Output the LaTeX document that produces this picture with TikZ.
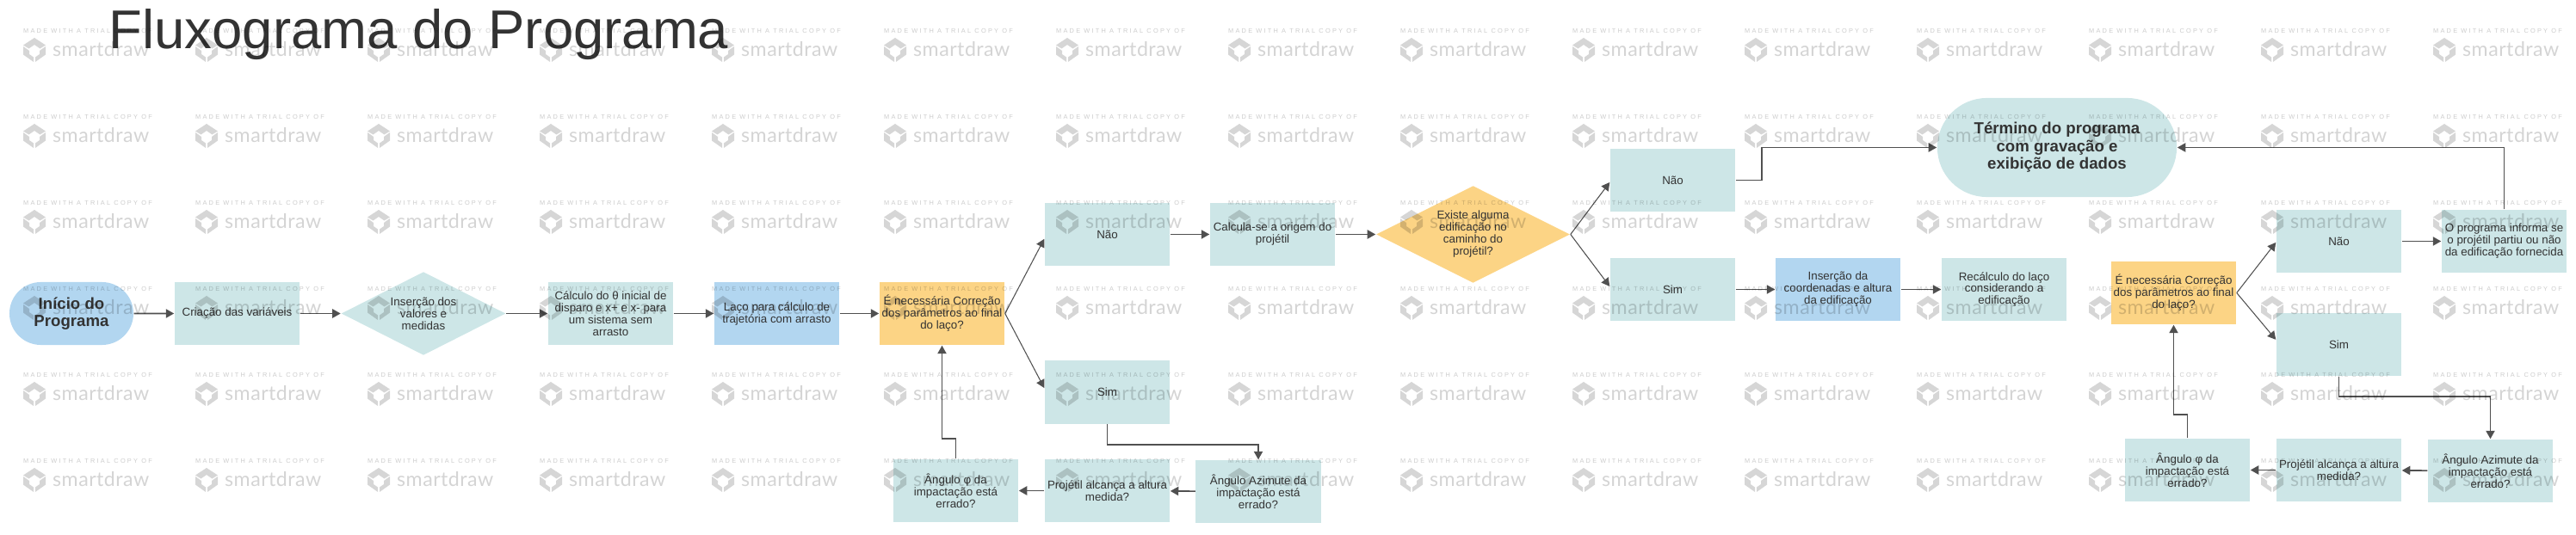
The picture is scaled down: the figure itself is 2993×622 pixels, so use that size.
\documentclass[tikz,border=0pt]{standalone}
\usepackage{fontspec}
\setmainfont{Liberation Sans}
\newfontfamily\markfont[LetterSpace=30]{Liberation Sans}
\newfontfamily\logofont[LetterSpace=2]{Lato}
\usetikzlibrary{arrows.meta,shapes.geometric,shapes.misc}

\definecolor{agua}{HTML}{CDE6E7}
\definecolor{azul}{HTML}{B2D6F0}
\definecolor{ouro}{HTML}{FCD485}
\definecolor{tinta}{HTML}{333333}
\definecolor{linha}{HTML}{505050}

\tikzset{
  caixa/.style={rectangle,fill=agua,minimum width=1.45cm,minimum height=.73cm},
  losango/.style={diamond,fill=#1,aspect=1.9},
  termo/.style={rounded rectangle,fill=#1,font=\fontsize{5.3}{5.8}\selectfont\bfseries},
  seta/.style={draw=linha,line width=.45pt,-{Triangle[length=2.7pt,width=2.9pt]}},
  fina/.style={seta,line width=.3pt},
  selo/.pic={
    \fill (0,-14) -- (13,-5.5) -- (6.5,-1.5) -- (0,-6) -- (-6.5,-1.5) -- (-13,-5.5) -- cycle;
    \fill (-13,-4) -- (-6,1) -- (-6,5) -- (-1,8.5) -- (-1,14) -- (-13,5.5) -- cycle;
    \fill (13,-4) -- (6,1) -- (6,5) -- (1,8.5) -- (1,14) -- (13,5.5) -- cycle;
  }
}

\begin{document}
\begin{tikzpicture}
  [x=.01cm,y=-.01cm,every node/.style={inner sep=0,align=center,text=tinta,
   font=\fontsize{3.8}{3.98}\selectfont}]
  \useasboundingbox (0,0) rectangle (2993,622);

  \node[anchor=base west,font=\fontsize{18.05}{20}\selectfont] (titulo) at (126,57) {Fluxograma do Programa};

  % primeira linha
  \node[termo=azul,minimum width=1.44cm,minimum height=.73cm] (ini) at (83,364.5) {Início do\\Programa};
  \node[caixa] (var) at (275.5,364.5) {Criação das variáveis};
  \node[losango=agua,minimum width=1.91cm,minimum height=.97cm] (dados) at (492,364.5) {Inserção dos\\valores e\\medidas};
  \node[caixa] (calc) at (709.5,364.5) {Cálculo do θ inicial de\\disparo e x+ e x- para\\um sistema sem\\arrasto};
  \node[caixa,fill=azul] (laco) at (902.5,364.5) {Laço para cálculo de\\trajetória com arrasto};
  \node[caixa,fill=ouro] (cor1) at (1094.5,364.5) {É necessária Correção\\dos parâmetros ao final\\do laço?};

  % ramo do primeiro laco
  \node[caixa] (nao1) at (1286.5,272.5) {Não};
  \node[caixa] (orig) at (1478.5,272.5) {Calcula-se a origem do\\projétil};
  \node[losango=ouro,minimum width=2.25cm,minimum height=1.13cm] (exis) at (1711.5,272.5) {Existe alguma\\edificação no\\caminho do\\projétil?};
  \node[caixa] (sim1) at (1286.5,456) {Sim};
  \node[caixa] (az1) at (1462,571.5) {Ângulo Azimute da\\impactação está\\errado?};
  \node[caixa] (proj1) at (1286.5,570.5) {Projétil alcança a altura\\medida?};
  \node[caixa] (phi1) at (1110.5,570.5) {Ângulo φ da\\impactação está\\errado?};

  % edificacao
  \node[caixa] (nao2) at (1943.5,209.5) {Não};
  \node[caixa] (sim2) at (1943.5,336.5) {Sim};
  \node[caixa,fill=azul] (ins) at (2135.5,336.5) {Inserção da\\coordenadas e altura\\da edificação};
  \node[caixa] (rec) at (2328.5,336.5) {Recálculo do laço\\considerando a\\edificação};
  \node[termo=agua,minimum width=2.78cm,minimum height=1.15cm] (fim) at (2390,171.5) {Término do programa\\com gravação e\\exibição de dados};

  % segundo laco
  \node[caixa,fill=ouro] (cor2) at (2525.5,340.5) {É necessária Correção\\dos parâmetros ao final\\do laço?};
  \node[caixa] (nao3) at (2717.5,280.5) {Não};
  \node[caixa] (info) at (2909.5,280.5) {O programa informa se\\o projétil partiu ou não\\da edificação fornecida};
  \node[caixa] (sim3) at (2717.5,400.5) {Sim};
  \node[caixa] (az2) at (2893.5,547.5) {Ângulo Azimute da\\impactação está\\errado?};
  \node[caixa] (proj2) at (2717.5,546.5) {Projétil alcança a altura\\medida?};
  \node[caixa] (phi2) at (2541.5,546.5) {Ângulo φ da\\impactação está\\errado?};

  \foreach \from/\to in {ini/var,var/dados,dados/calc,calc/laco,laco/cor1,nao1/orig,orig/exis,sim2/ins,ins/rec,nao3/info,az1/proj1,proj1/phi1,az2/proj2,proj2/phi2}
    \draw[seta] (\from) -- (\to);

  \foreach \from/\to/\dy in {cor1/nao1/-1.5pt,cor1/sim1/1.4pt,exis/nao2/-.7pt,exis/sim2/1pt,cor2/nao3/-.4pt,cor2/sim3/1.6pt}
    \draw[fina] (\from.east) -- ([yshift=\dy]\to.west);

  \draw[seta] (sim1.south) -- ++(0,24) -| (az1.north);
  \draw[seta] (phi1.north) -- ++(0,-23) -| (cor1.south);
  \draw[seta] (nao2.east) -- ++(30,0) |- (fim.west);
  \draw[seta] (info.north) |- (fim.east);
  \draw[seta] (sim3.south) -- ++(0,23) -| (az2.north);
  \draw[seta] (phi2.north) -- ++(0,-27) -| (cor2.south);

  % marca d'agua
  \foreach \x in {102,302,...,2902}
    \foreach \y in {36,136,...,536} {
      \node[text=black,text opacity=.2,font=\fontsize{2.1}{2.5}\selectfont\markfont] (made\x\y) at (\x,\y) {MADE WITH A TRIAL COPY OF};
      \node[anchor=base west,text=black,text opacity=.17,font=\fontsize{6.6}{7}\selectfont\logofont] (logo\x\y) at (\x-41.5,\y+29.5) {smartdraw};
      \path[fill=black,fill opacity=.16] (\x-62,\y+22) pic {selo};
    }
\end{tikzpicture}
\end{document}
